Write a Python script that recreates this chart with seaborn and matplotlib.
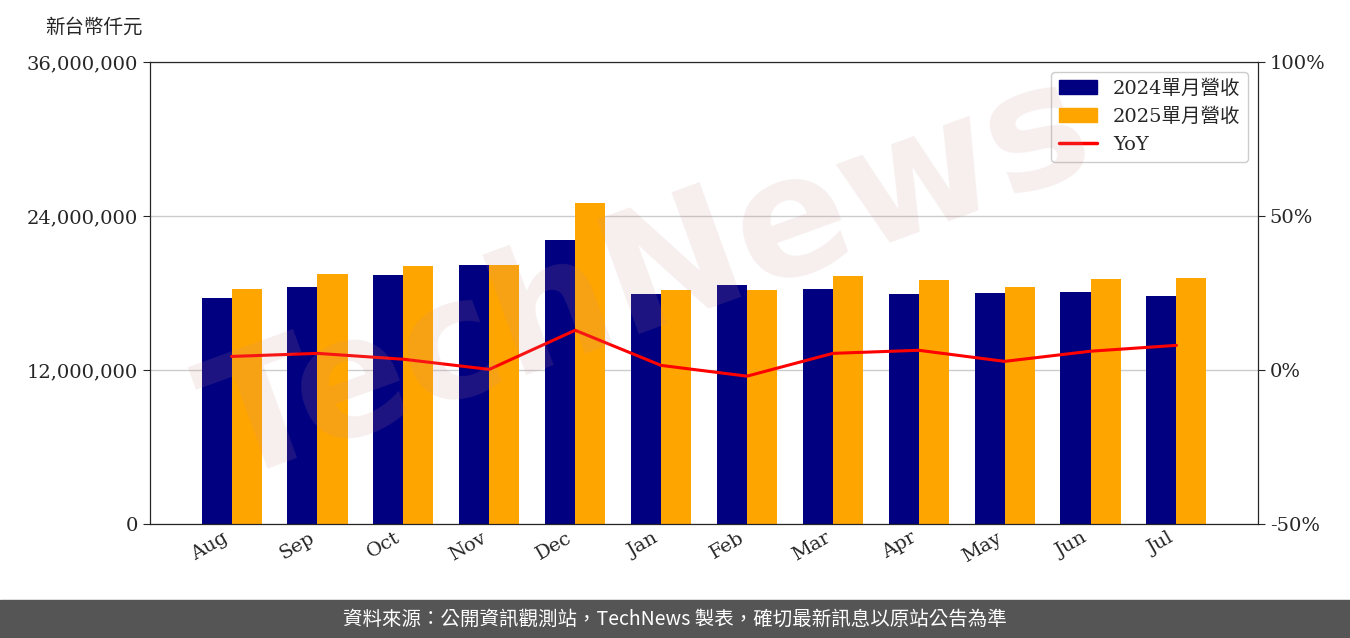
import matplotlib
matplotlib.use("Agg")
import matplotlib.pyplot as plt
import seaborn as sns
import pandas as pd
import numpy as np
from matplotlib.ticker import FuncFormatter

months = ["Aug","Sep","Oct","Nov","Dec","Jan","Feb","Mar","Apr","May","Jun","Jul"]
rev2024 = [17.6,18.5,19.4,20.2,22.1,17.9,18.6,18.3,17.9,18.0,18.1,17.8]
rev2025 = [18.3,19.5,20.1,20.2,25.0,18.2,18.2,19.3,19.0,18.5,19.1,19.2]
yoy = [4.4,5.4,3.5,0.2,12.9,1.5,-2.0,5.4,6.4,2.8,6.1,8.0]

sns.set_style("white")
plt.rcParams['font.family'] = ['DejaVu Serif', 'Noto Sans CJK TC']

df = pd.DataFrame({"month": months*2,
                   "rev": [v*1e6 for v in rev2024+rev2025],
                   "series": ["2024單月營收"]*12 + ["2025單月營收"]*12})

fig = plt.figure(figsize=(13.5, 6.38), dpi=100)
ax = fig.add_axes([150/1350, 1-524/638, 1108/1350, 462/638])
sns.barplot(data=df, x="month", y="rev", hue="series", palette=["#000080", "#FFA500"],
            width=0.7, ax=ax, legend=False, saturation=1, linewidth=0, edgecolor='none')
ax.set_ylim(0, 36e6)
ax.set_yticks([0, 12e6, 24e6, 36e6])
ax.yaxis.set_major_formatter(FuncFormatter(lambda v, p: f"{int(v):,}"))
ax.set_xlabel(""); ax.set_ylabel("")
ax.tick_params(axis='y', labelsize=14, length=5, direction='out', left=True)
ax.tick_params(axis='x', labelsize=14, rotation=30, length=0)
for l in ax.get_xticklabels():
    l.set_ha('right')
ax.grid(axis='y', color='#cccccc', lw=1)
ax.set_axisbelow(True)
for s in ax.spines.values():
    s.set_color('black')

ax2 = ax.twinx()
ax2.plot(range(12), yoy, color='red', lw=2.2)
ax2.set_ylim(-50, 100)
ax2.set_yticks([-50, 0, 50, 100])
ax2.yaxis.set_major_formatter(FuncFormatter(lambda v, p: f"{int(v)}%"))
ax2.tick_params(axis='y', labelsize=14, length=5)
ax.set_xlim(-0.95, 11.95)

from matplotlib.patches import Patch
from matplotlib.lines import Line2D
handles = [Patch(color="#000080", label="2024單月營收"), Patch(color="#FFA500", label="2025單月營收"),
           Line2D([0],[0], color='red', lw=2.5, label="YoY")]
ax2.legend(handles=handles, loc='upper right', fontsize=14, framealpha=1, edgecolor='#cccccc')

fig.text(45/1350, 1-27/638, "新台幣仟元", fontsize=14, va='center', family=['Noto Sans CJK TC'])
fig.text(0.48, 0.56, "TechNews", fontsize=120, rotation=20, color='#c89090', alpha=0.15,
         ha='center', va='center', family=['DejaVu Sans'], fontweight='bold', zorder=10)
fig.patches.append(plt.Rectangle((0, 0), 1, 38/638, transform=fig.transFigure, color='#555555', zorder=-1))
fig.text(0.5, 19/638, "資料來源：公開資訊觀測站，TechNews 製表，確切最新訊息以原站公告為準", color='white',
         fontsize=14, ha='center', va='center', family=['Noto Sans CJK TC'])
fig.savefig("out.png", dpi=100)
